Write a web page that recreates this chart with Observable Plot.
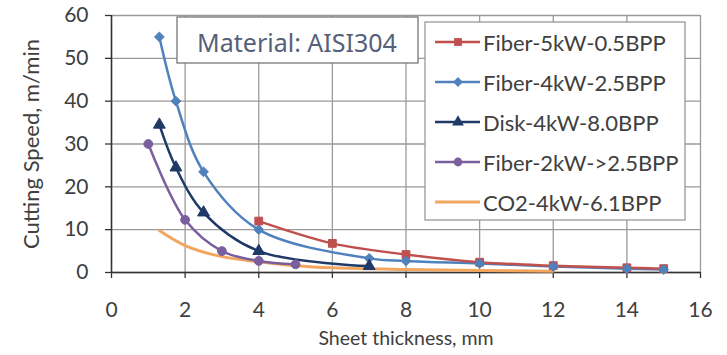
<!DOCTYPE html>
<html>
<head>
<meta charset="utf-8">
<script src="https://cdn.jsdelivr.net/npm/d3@7"></script>
<script src="https://cdn.jsdelivr.net/npm/@observablehq/plot@0.6"></script>
<style>
  html, body { margin: 0; padding: 0; background: #fff; }
  #chart { width: 727px; height: 355px; }
</style>
</head>
<body>
<div id="chart"></div>
<script>
// ---- data ----
const seriesNames = ["Fiber-5kW-0.5BPP", "Fiber-4kW-2.5BPP", "Disk-4kW-8.0BPP", "Fiber-2kW->2.5BPP", "CO2-4kW-6.1BPP"];
const seriesColors = ["#c0504d", "#4f81bd", "#1f3a66", "#7a5f9e", "#f2a65e"];
const seriesSymbols = ["square", "diamond2", "triangle", "circle", null];

const fiber5kwThickness = [4, 6, 8, 10, 12, 14, 15];
const fiber5kwSpeed     = [12, 6.8, 4.2, 2.4, 1.6, 1.1, 0.9];

const fiber4kwThickness = [1.3, 1.75, 2.5, 4, 7, 8, 10, 12, 14, 15];
const fiber4kwSpeed     = [55, 40, 23.5, 10, 3.3, 2.7, 2.1, 1.4, 0.9, 0.7];

const disk4kwThickness = [1.3, 1.75, 2.5, 4, 7];
const disk4kwSpeed     = [34.5, 24.5, 14, 5, 1.5];

const fiber2kwThickness = [1, 2, 3, 4, 5];
const fiber2kwSpeed     = [30, 12.3, 5, 2.7, 1.9];

const co2ThicknessLine = [1.3, 2, 3, 4, 5, 6, 8, 10, 12];
const co2SpeedLine     = [9.8, 6.3, 3.7, 2.5, 1.6, 1.1, 0.7, 0.45, 0.3];

const xTicks = [0, 2, 4, 6, 8, 10, 12, 14, 16];
const yTicks = [0, 10, 20, 30, 40, 50, 60];
const xTitle = "Sheet thickness, mm";
const yTitle = "Cutting Speed, m/min";
const annotation = "Material: AISI304";

// ---- build table ----
const seriesX = [fiber5kwThickness, fiber4kwThickness, disk4kwThickness, fiber2kwThickness, co2ThicknessLine];
const seriesY = [fiber5kwSpeed, fiber4kwSpeed, disk4kwSpeed, fiber2kwSpeed, co2SpeedLine];
const rows = [];
seriesNames.forEach((name, i) => {
  seriesX[i].forEach((x, j) => rows.push({series: name, x, y: seriesY[i][j], idx: i}));
});

const dotMarks = seriesNames.map((name, i) => seriesSymbols[i] ? Plot.dot(rows.filter(d => d.idx === i), {
  x: "x", y: "y", symbol: () => seriesSymbols[i], fill: seriesColors[i], stroke: seriesColors[i],
  strokeWidth: 1, r: 4.4
}) : null).filter(Boolean);

// draw order: CO2 at bottom, then others
const lineOrder = [4, 3, 2, 1, 0];
const lineMarks = lineOrder.map(i => Plot.line(rows.filter(d => d.idx === i), {
  x: "x", y: "y", stroke: seriesColors[i], strokeWidth: i === 4 ? 3 : 2.5, curve: "catmull-rom"
}));

const svg = Plot.plot({
  width: 727,
  height: 355,
  marginLeft: 111,
  marginRight: 27,
  marginTop: 15,
  marginBottom: 83,
  style: {fontFamily: "Lato", fontSize: "21px", color: "#404040", background: "#fff"},
  x: {domain: [0, 16], ticks: xTicks, label: null},
  y: {domain: [0, 60], ticks: yTicks, label: null},
  marks: [
    Plot.gridX(xTicks, {stroke: "#9a9a9a", strokeOpacity: 1, strokeWidth: 1.3}),
    Plot.gridY(yTicks, {stroke: "#9a9a9a", strokeOpacity: 1, strokeWidth: 1.3}),
    Plot.axisX(xTicks, {tickSize: 6, tickPadding: 24, stroke: "#333", strokeWidth: 1.3, fill: "#404040", label: null}),
    Plot.axisY(yTicks, {tickSize: 6, tickPadding: 17, stroke: "#333", strokeWidth: 1.3, fill: "#404040", label: null}),
    Plot.ruleY([0], {stroke: "#333", strokeWidth: 1.5}),
    Plot.ruleX([0], {stroke: "#333", strokeWidth: 1.5}),
    ...lineMarks,
    ...dotMarks,
    Plot.text([xTitle], {frameAnchor: "bottom", textAnchor: "middle", dy: 72, fill: "#404040", fontSize: 19.5}),
    Plot.text([yTitle], {frameAnchor: "left", textAnchor: "middle", dx: -80, rotate: -90, fill: "#404040", fontSize: 22})
  ]
});

document.getElementById("chart").appendChild(svg);

// ---- annotation box and legend (overlay inside plot area) ----
const s = d3.select(svg);
const ann = s.append("g");
ann.append("rect").attr("x", 177).attr("y", 17).attr("width", 241).attr("height", 46)
  .attr("fill", "#fff").attr("stroke", "#777").attr("stroke-width", 1.3);
ann.append("text").attr("x", 297).attr("y", 42).attr("text-anchor", "middle").attr("dominant-baseline", "central")
  .attr("font-family", "Noto Sans").attr("font-size", 25).attr("fill", "#56607a").text(annotation);

const leg = s.append("g");
leg.append("rect").attr("x", 425).attr("y", 22).attr("width", 260).attr("height", 198)
  .attr("fill", "#fff").attr("stroke", "#999").attr("stroke-width", 1.3);
const symGen = {
  square: d3.symbolSquare, diamond2: d3.symbolDiamond2, triangle: d3.symbolTriangle, circle: d3.symbolCircle
};
seriesNames.forEach((name, i) => {
  const yy = 42 + i * 40;
  const g = leg.append("g");
  g.append("line").attr("x1", 435).attr("x2", 480).attr("y1", yy).attr("y2", yy)
    .attr("stroke", seriesColors[i]).attr("stroke-width", i === 4 ? 3 : 2.5);
  if (seriesSymbols[i]) {
    g.append("path").attr("transform", `translate(458,${yy})`)
      .attr("d", d3.symbol(symGen[seriesSymbols[i]], Math.PI * 4.4 * 4.4)())
      .attr("fill", seriesColors[i]);
  }
  g.append("text").attr("x", 483).attr("y", yy).attr("text-anchor", "start").attr("dominant-baseline", "central")
    .attr("font-family", "Lato").attr("font-size", 22).attr("fill", "#404040").text(name);
});
</script>
</body>
</html>
